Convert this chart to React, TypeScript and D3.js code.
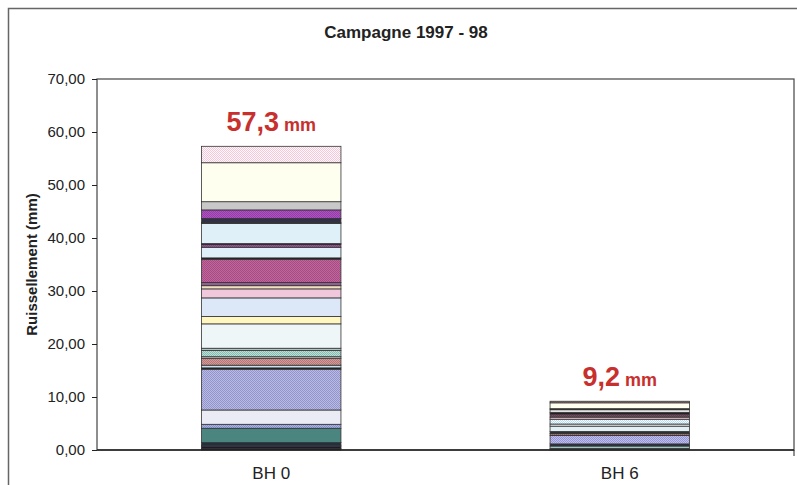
import React, { useEffect, useRef } from 'react';
import * as d3 from 'd3';

// chart data (mm of runoff per event, bottom to top)
const categories = ['BH 0', 'BH 6'];
const bh0Values = [0.3, 0.3, 0.3, 0.5, 2.7, 0.75, 2.7, 7.7, 0.25, 0.5, 1.3, 0.3, 1.2, 0.4, 4.6, 1.4,
  3.5, 1.7, 0.6, 0.6, 4.4, 0.25, 2.0, 0.5, 0.2, 3.8, 0.15, 0.8, 1.6, 1.55, 7.35, 3.1];
const bh6Values = [0.3, 0.45, 0.4, 1.6, 0.35, 0.4, 1.0, 0.4, 0.9, 0.4, 0.6, 0.3, 0.5, 0.2, 1.1, 0.3];
const totalLabels = ['57,3', '9,2'];
const yTicks = [0, 10, 20, 30, 40, 50, 60, 70];

// fill styles for each segment ('d' = dotted pattern)
const bh0Fills = [
  ['#1a1a4e'], ['#111111'], ['#222266'], ['#203040'], ['#4a8580'], ['#8890c0', 'd'], ['#ebebf5'],
  ['#9496c0', 'd'], ['#111111'], ['#c8e0f0'], ['#b07a7a', 'd'], ['#d0d0d0'], ['#90b8b0', 'd'],
  ['#b8c8c8'], ['#eef6f8'], ['#fff6c0'], ['#dce8f8'], ['#f0c8dc'], ['#f0e0c0'], ['#906090'],
  ['#a05080', 'd'], ['#111111'], ['#e0f0f8'], ['#804880', 'd'], ['#111111'], ['#e0f0f8'],
  ['#707050'], ['#303048'], ['#9040a0', 'd'], ['#c8c8c8'], ['#fffff0'], ['#f4c8d4', 'd'],
];
const bh6Fills = [
  ['#2a6060'], ['#a0c8c8'], ['#303040'], ['#9898c8', 'd'], ['#806060', 'd'], ['#303030'],
  ['#e0f0f4'], ['#f8f8f8'], ['#c0d8f0', 'd'], ['#e8c0c8'], ['#604050', 'd'], ['#111111'],
  ['#e8e8e8'], ['#111111'], ['#fffff0'], ['#907070', 'd'],
];

const series = [
  { values: bh0Values, fills: bh0Fills },
  { values: bh6Values, fills: bh6Fills },
];

const W = 797, H = 485;
const margin = { top: 79, right: 3, bottom: 35, left: 97 };
const font = 'Liberation Sans, Arial, sans-serif';

export default function App() {
  const yAxisRef = useRef<SVGGElement>(null);

  const x = d3.scaleBand().domain(categories)
    .range([margin.left, W - margin.right])
    .paddingInner(0.6).paddingOuter(0.3);
  const y = d3.scaleLinear().domain([0, 70]).range([H - margin.bottom, margin.top]);

  useEffect(() => {
    const axis = d3.axisLeft(y).tickValues(yTicks).tickSize(5).tickSizeOuter(0)
      .tickFormat(d => d3.format('.2f')(d as number).replace('.', ','));
    const g = d3.select(yAxisRef.current!);
    g.call(axis);
    g.select('.domain').remove();
    g.selectAll('text').attr('font-size', 15).attr('font-family', font).attr('fill', '#222').attr('x', -12);
    g.selectAll('line').attr('stroke', '#222');
  }, []);

  return (
    <svg width={W} height={H} style={{ position: 'absolute', left: 0, top: 0, background: '#fff' }}>
      <defs>
        {series.map((s, si) => s.fills.map((f, i) => f[1] === 'd' ? (
          <pattern key={`${si}-${i}`} id={`dot-${si}-${i}`} width={2} height={2} patternUnits="userSpaceOnUse">
            <rect width={2} height={2} fill={d3.color(f[0])!.brighter(0.6).formatHex()} />
            <rect width={1} height={1} fill={f[0]} />
            <rect x={1} y={1} width={1} height={1} fill={f[0]} />
          </pattern>
        ) : null))}
      </defs>

      {/* outer chart border */}
      <rect x={8.5} y={8.5} width={W + 10} height={H + 10} fill="none" stroke="#666" strokeWidth={1.5} />

      <text x={406} y={38} textAnchor="middle" fontFamily={font} fontWeight="bold" fontSize={17} fill="#222">
        Campagne 1997 - 98
      </text>

      {/* plot area frame */}
      <rect x={margin.left} y={margin.top} width={W - margin.right - margin.left}
        height={H - margin.bottom - margin.top} fill="none" stroke="#444" strokeWidth={1.2} />

      {series.map((s, si) => {
        const ends = Array.from(d3.cumsum(s.values));
        const bx = x(categories[si])!;
        return (
          <g key={si}>
            {s.values.map((v, i) => {
              const y0 = i === 0 ? 0 : ends[i - 1];
              const f = s.fills[i];
              return (
                <rect key={i} x={bx} width={x.bandwidth()} y={y(ends[i])} height={y(y0) - y(ends[i])}
                  fill={f[1] === 'd' ? `url(#dot-${si}-${i})` : f[0]} stroke="#333" strokeWidth={0.8} />
              );
            })}
            <text x={bx + x.bandwidth() / 2} y={y(ends[ends.length - 1]) - 15} textAnchor="middle"
              fontFamily={font} fontWeight="bold" fill="#c8302e">
              <tspan fontSize={27}>{totalLabels[si]}</tspan>
              <tspan fontSize={18}> mm</tspan>
            </text>
          </g>
        );
      })}

      <g ref={yAxisRef} transform={`translate(${margin.left},0)`} />
      <line x1={margin.left} x2={W - margin.right} y1={y(0)} y2={y(0)} stroke="#222" strokeWidth={1.5} />
      <line x1={W - margin.right} x2={W - margin.right} y1={y(0)} y2={y(0) + 6} stroke="#222" />

      {categories.map(c => (
        <text key={c} x={x(c)! + x.bandwidth() / 2} y={479} textAnchor="middle" fontFamily={font}
          fontSize={17} fill="#222">{c}</text>
      ))}

      <text transform={`translate(37,${(y(0) + y(70)) / 2}) rotate(-90)`} textAnchor="middle"
        fontFamily={font} fontWeight="bold" fontSize={15} fill="#222">Ruissellement (mm)</text>
    </svg>
  );
}
